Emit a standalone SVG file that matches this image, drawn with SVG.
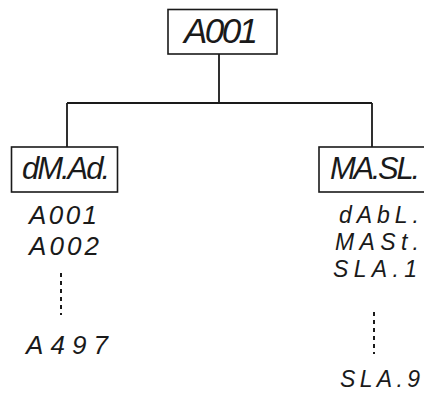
<svg xmlns="http://www.w3.org/2000/svg" width="424" height="394" viewBox="0 0 424 394">
  <style>
    .box { fill: #fff; stroke: #1a1a1a; stroke-width: 1.6; }
    .wire { fill: none; stroke: #1a1a1a; stroke-width: 1.8; }
    .dots { fill: none; stroke: #1a1a1a; stroke-width: 2; stroke-dasharray: 4 4; }
    .seg { font-family: "Liberation Sans", "DejaVu Sans", sans-serif; font-style: italic; fill: #1a1a1a; }
    .big { font-size: 35px; }
    .mid { font-size: 31px; }
    .item { font-size: 26px; }
    .row { font-size: 23px; }
  </style>
  <rect width="424" height="394" fill="#fff"/>

  <!-- tree connectors -->
  <g id="connectors">
    <path class="wire" d="M219 54 V103 M67 103 H372 M67 103 V147 M372 103 V147"/>
    <path class="dots" d="M61 273 V315"/>
    <path class="dots" d="M374 312 V354"/>
  </g>

  <!-- root display -->
  <g id="root">
    <rect class="box" x="168" y="9.5" width="109" height="44.5"/>
    <text class="seg big" x="184" y="43" textLength="74" lengthAdjust="spacing">A001</text>
  </g>

  <!-- DMX address branch -->
  <g id="dmx-address">
    <rect class="box" x="11.5" y="147" width="106" height="45"/>
    <text class="seg mid" x="22" y="179" textLength="88" lengthAdjust="spacing">dM.Ad.</text>
  </g>
  <g id="dmx-values">
    <text class="seg item" x="29" y="224" textLength="68" lengthAdjust="spacing">A001</text>
    <text class="seg item" x="29" y="255" textLength="70" lengthAdjust="spacing">A002</text>
    <text class="seg item" x="26" y="354" textLength="82" lengthAdjust="spacing">A497</text>
  </g>

  <!-- master / slave branch -->
  <g id="master-slave">
    <rect class="box" x="319" y="147" width="120" height="45"/>
    <text class="seg mid" x="330" y="179" textLength="90" lengthAdjust="spacing">MA.SL.</text>
  </g>
  <g id="ms-values">
    <text class="seg row" x="339" y="223" textLength="80" lengthAdjust="spacing">dAbL.</text>
    <text class="seg row" x="335" y="250" textLength="84" lengthAdjust="spacing">MASt.</text>
    <text class="seg row" x="333" y="277" textLength="84" lengthAdjust="spacing">SLA.1</text>
    <text class="seg row" x="340" y="387" textLength="80" lengthAdjust="spacing">SLA.9</text>
  </g>
</svg>
